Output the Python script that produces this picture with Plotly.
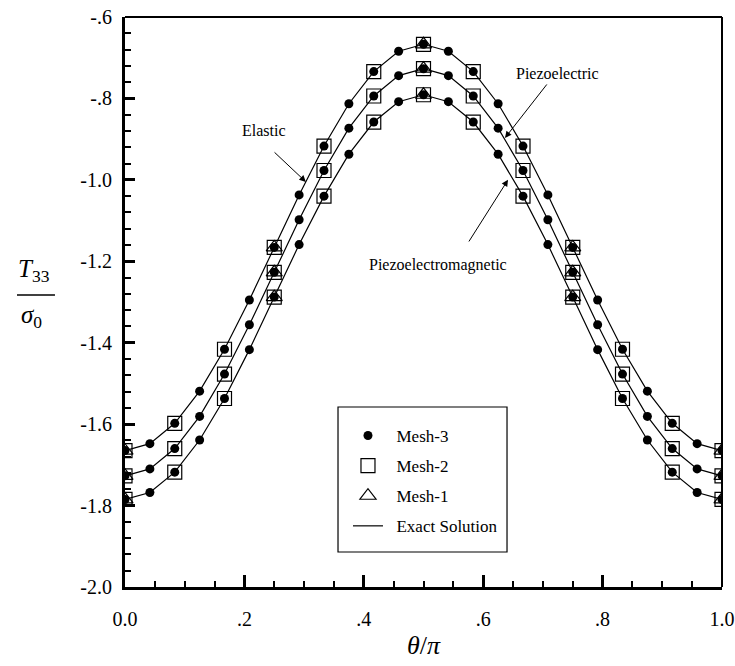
import plotly.graph_objects as go

# theta/pi sample points (Mesh-3: every 1/24)
theta = [k / 24 for k in range(25)]

# Values (T33/sigma0), theta/pi = 0 .. 0.5 (curves are symmetric)
elastic_half = [-1.665, -1.648, -1.598, -1.519, -1.416, -1.295, -1.166,
                -1.037, -0.917, -0.813, -0.734, -0.684, -0.667]
piezoelectric_half = [-1.727, -1.710, -1.660, -1.581, -1.477, -1.356, -1.227,
                      -1.098, -0.977, -0.873, -0.794, -0.744, -0.727]
pem_half = [-1.785, -1.768, -1.718, -1.639, -1.537, -1.417, -1.288,
            -1.159, -1.040, -0.937, -0.858, -0.808, -0.791]

elastic = elastic_half + elastic_half[-2::-1]
piezoelectric = piezoelectric_half + piezoelectric_half[-2::-1]
pem = pem_half + pem_half[-2::-1]

curves = [elastic, piezoelectric, pem]

x_ticks = [0.0, 0.2, 0.4, 0.6, 0.8, 1.0]
x_ticklabels = ["0.0", ".2", ".4", ".6", ".8", "1.0"]
y_ticks = [-2.0, -1.8, -1.6, -1.4, -1.2, -1.0, -0.8, -0.6]
y_ticklabels = ["-2.0", "-1.8", "-1.6", "-1.4", "-1.2", "-1.0", "-.8", "-.6"]

FONT = "'Liberation Serif', 'Times New Roman', Times, 'DejaVu Serif', serif"
NB = "\u00a0\u00a0"

fig = go.Figure()

# Exact solution lines
for i, c in enumerate(curves):
    fig.add_trace(go.Scatter(
        x=theta, y=c, mode="lines", line=dict(color="black", width=1.2),
        name=NB + "Exact Solution", legendgroup="exact", showlegend=(i == 0),
        legendrank=4))

# Mesh-1: every 1/4
for i, c in enumerate(curves):
    idx = list(range(0, 25, 6))
    fig.add_trace(go.Scatter(
        x=[theta[j] for j in idx], y=[c[j] for j in idx], mode="markers",
        marker=dict(symbol="triangle-up-open", size=14, color="black",
                    line=dict(width=1.2, color="black")),
        name=NB + "Mesh-1", legendgroup="m1", showlegend=(i == 0), legendrank=3))

# Mesh-2: every 1/12
for i, c in enumerate(curves):
    idx = list(range(0, 25, 2))
    fig.add_trace(go.Scatter(
        x=[theta[j] for j in idx], y=[c[j] for j in idx], mode="markers",
        marker=dict(symbol="square-open", size=14, color="black",
                    line=dict(width=1.2, color="black")),
        name=NB + "Mesh-2", legendgroup="m2", showlegend=(i == 0), legendrank=2))

# Mesh-3: every 1/24
for i, c in enumerate(curves):
    fig.add_trace(go.Scatter(
        x=theta, y=c, mode="markers",
        marker=dict(symbol="circle", size=9, color="black"),
        name=NB + "Mesh-3", legendgroup="m3", showlegend=(i == 0), legendrank=1))

fig.update_xaxes(
    range=[0, 1], tickvals=x_ticks, ticktext=x_ticklabels, automargin=False,
    showline=True, linecolor="black", linewidth=3,
    ticks="inside", ticklen=12, tickwidth=2.5, tickcolor="black",
    minor=dict(dtick=0.05, ticks="inside", ticklen=6, tickwidth=1.5, tickcolor="black"),
    showgrid=False, zeroline=False, ticklabelstandoff=12,
    tickfont=dict(family=FONT, size=20, color="black"))
fig.update_yaxes(
    range=[-2.0, -0.6], tickvals=y_ticks, ticktext=y_ticklabels, automargin=False,
    showline=True, linecolor="black", linewidth=3,
    ticks="inside", ticklen=10, tickwidth=2.5, tickcolor="black",
    minor=dict(dtick=0.04, tick0=-2.0, ticks="inside", ticklen=6, tickwidth=1.5, tickcolor="black"),
    showgrid=False, zeroline=False, ticklabelstandoff=6,
    tickfont=dict(family=FONT, size=20, color="black"))

# top and right frame lines
fig.add_shape(type="line", xref="paper", yref="paper", x0=0, x1=1, y0=1, y1=1,
              line=dict(color="black", width=2))
fig.add_shape(type="line", xref="paper", yref="paper", x0=1, x1=1, y0=0, y1=1,
              line=dict(color="black", width=2))

# legend frame
fig.add_shape(type="rect", xref="paper", yref="paper", x0=0.3568, x1=0.6399,
              y0=0.0614, y1=0.3158, line=dict(color="black", width=1.2),
              fillcolor="white", layer="below")

# x-axis title
fig.add_annotation(text="<i>θ</i>/<i>π</i>", xref="paper", yref="paper",
                   x=0.501, y=-0.102, xanchor="center", yanchor="middle", showarrow=False,
                   font=dict(family=FONT, size=26, color="black"))

# y-axis fraction label
fig.add_annotation(text="<i>T</i><sub>33</sub>", xref="paper", yref="paper",
                   x=-0.153, y=0.525, xanchor="center", yanchor="bottom", showarrow=False,
                   font=dict(family=FONT, size=25, color="black"))
fig.add_annotation(text="<i>σ</i><sub>0</sub>", xref="paper", yref="paper",
                   x=-0.156, y=0.505, xanchor="center", yanchor="top", showarrow=False,
                   font=dict(family=FONT, size=25, color="black"))
fig.add_shape(type="line", xref="paper", yref="paper", x0=-0.1809, x1=-0.1173,
              y0=0.5123, y1=0.5123, line=dict(color="black", width=1.5))

ann_font = dict(family=FONT, size=16, color="black")
fig.add_annotation(text="Elastic", x=0.233, y=-0.878, xref="x", yref="y",
                   showarrow=False, font=ann_font)
fig.add_annotation(x=0.303, y=-1.005, ax=0.248, ay=-0.929, xref="x", yref="y",
                   axref="x", ayref="y", text="", showarrow=True,
                   arrowhead=2, arrowsize=1.3, arrowwidth=1, arrowcolor="black")
fig.add_annotation(text="Piezoelectric", x=0.725, y=-0.738, xref="x", yref="y",
                   showarrow=False, font=ann_font)
fig.add_annotation(x=0.6365, y=-0.897, ax=0.7085, ay=-0.762, xref="x", yref="y",
                   axref="x", ayref="y", text="", showarrow=True,
                   arrowhead=2, arrowsize=1.3, arrowwidth=1, arrowcolor="black")
fig.add_annotation(text="Piezoelectromagnetic", x=0.525, y=-1.209, xref="x", yref="y",
                   showarrow=False, font=ann_font)
fig.add_annotation(x=0.6415, y=-1.0, ax=0.5745, ay=-1.155, xref="x", yref="y",
                   axref="x", ayref="y", text="", showarrow=True,
                   arrowhead=2, arrowsize=1.3, arrowwidth=1, arrowcolor="black")

fig.update_layout(
    width=735, height=666,
    margin=dict(l=125, r=13, t=17, b=79),
    plot_bgcolor="white", paper_bgcolor="white",
    font=dict(family=FONT, color="black"),
    legend=dict(x=0.3735, y=0.2965, xanchor="left", yanchor="top",
                borderwidth=0, bgcolor="rgba(0,0,0,0)",
                font=dict(family=FONT, size=17, color="black"),
                itemwidth=30, tracegroupgap=5),
)

fig.write_html("out.html")
